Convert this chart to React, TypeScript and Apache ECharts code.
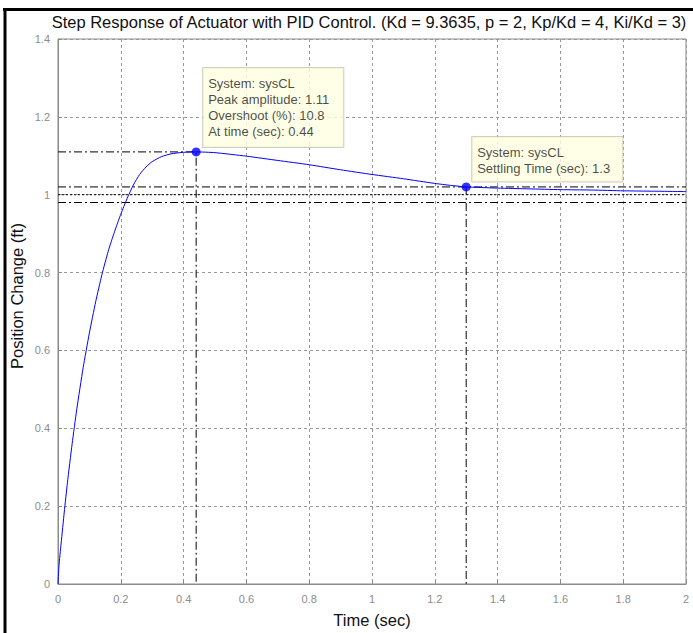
import React, { useEffect, useRef } from "react";
import * as echarts from "echarts";

const titleText =
  "Step Response of Actuator with PID Control. (Kd = 9.3635, p = 2, Kp/Kd = 4, Ki/Kd = 3)";
const xName = "Time (sec)";
const yName = "Position Change (ft)";

// step response: time (sec) and position (ft)
const timeValues = [0, 0.003, 0.01, 0.02, 0.03, 0.045, 0.06, 0.08, 0.1, 0.12, 0.14, 0.16, 0.18, 0.2, 0.22, 0.24, 0.26, 0.28, 0.3, 0.33, 0.36, 0.4, 0.44, 0.5, 0.6, 0.7, 0.8, 0.9, 1.0, 1.1, 1.2, 1.25, 1.3, 1.4, 1.5, 1.6, 1.7, 1.8, 1.9, 2.0];
const posValues = [0, 0.045, 0.105, 0.185, 0.26, 0.36, 0.45, 0.555, 0.645, 0.725, 0.795, 0.855, 0.905, 0.95, 0.99, 1.025, 1.052, 1.071, 1.085, 1.098, 1.105, 1.109, 1.11, 1.108, 1.099, 1.088, 1.077, 1.064, 1.052, 1.041, 1.029, 1.024, 1.02, 1.017, 1.015, 1.013, 1.012, 1.01, 1.009, 1.008];

const peakTime = 0.44;
const peakAmp = 1.11;
const overshoot = 10.8;
const settleTime = 1.3;
const settleAmp = 1.02;
const steadyState = 1.0;
const settleBandHi = 1.02;
const settleBandLo = 0.98;

const App: React.FC = () => {
  const ref = useRef<HTMLDivElement>(null);
  useEffect(() => {
    if (!ref.current) return;
    const chart = echarts.init(ref.current, undefined, { renderer: "svg" });
    const curve = timeValues.map((t, i) => [t, posValues[i]]);
    const dashDot = [8, 3, 2, 3];
    const refLine = (data: number[][], type: any) => ({
      type: "line",
      data,
      showSymbol: false,
      symbol: "none",
      silent: true,
      lineStyle: { color: "#000", width: 1, type },
      z: 3,
    });
    const font = "'Liberation Sans', Arial, sans-serif";
    chart.setOption({
      animation: false,
      backgroundColor: "#fff",
      textStyle: { fontFamily: font },
      title: {
        text: titleText,
        left: 369,
        top: 13,
        padding: 0,
        textAlign: "center",
        textStyle: { fontSize: 16.5, fontWeight: "normal", color: "#111", fontFamily: font },
      },
      grid: {
        left: 58,
        right: 7,
        top: 39,
        bottom: 49,
        show: true,
        borderColor: "#8a8a8a",
        borderWidth: 1,
        backgroundColor: "transparent",
      },
      xAxis: {
        type: "value",
        min: 0,
        max: 2,
        interval: 0.2,
        name: xName,
        nameLocation: "middle",
        nameGap: 27,
        nameTextStyle: { fontSize: 16.5, color: "#111", fontFamily: font },
        axisLine: { show: true, lineStyle: { color: "#8a8a8a" } },
        axisTick: { show: true, inside: true, length: 4, lineStyle: { color: "#8a8a8a" } },
        axisLabel: { color: "#8c8c8c", fontSize: 11, margin: 9, fontFamily: font },
        splitLine: { show: true, lineStyle: { color: "#999", type: [3, 3], width: 1 } },
      },
      yAxis: {
        type: "value",
        min: 0,
        max: 1.4,
        interval: 0.2,
        axisLine: { show: true, lineStyle: { color: "#8a8a8a" } },
        axisTick: { show: true, inside: true, length: 4, lineStyle: { color: "#8a8a8a" } },
        axisLabel: { color: "#8c8c8c", fontSize: 11, margin: 8, fontFamily: font },
        splitLine: { show: true, lineStyle: { color: "#999", type: [3, 3], width: 1 } },
      },
      graphic: [
        { type: "line", shape: { x1: 3, y1: 9.5, x2: 693, y2: 9.5 }, style: { stroke: "#000", lineWidth: 3 } },
        { type: "line", shape: { x1: 5, y1: 8, x2: 5, y2: 633 }, style: { stroke: "#000", lineWidth: 3 } },
        {
          type: "text",
          x: 17,
          y: 296,
          rotation: Math.PI / 2,
          style: {
            text: yName,
            fontSize: 16.5,
            fontFamily: font,
            fill: "#111",
            align: "center",
            verticalAlign: "middle",
          },
        },
      ],
      series: [
        refLine([[0, settleBandHi], [2, settleBandHi]], dashDot),
        refLine([[0, settleBandLo], [2, settleBandLo]], dashDot),
        refLine([[0, steadyState], [2, steadyState]], [2, 2]),
        refLine([[0, peakAmp], [peakTime, peakAmp], [peakTime, 0]], dashDot),
        refLine([[settleTime, settleAmp], [settleTime, 0]], dashDot),
        {
          type: "line",
          name: "sysCL",
          data: curve,
          showSymbol: false,
          symbol: "none",
          smooth: 0.2,
          lineStyle: { color: "#0000ff", width: 1 },
          z: 4,
        },
        {
          type: "scatter",
          symbol: "circle",
          symbolSize: 9,
          itemStyle: { color: "#0000ff" },
          z: 6,
          label: {
            show: true,
            align: "left",
            verticalAlign: "top",
            backgroundColor: "#ffffe1",
            borderColor: "#c4c4b0",
            borderWidth: 1,
            color: "#1a1a1a",
            fontSize: 13,
            lineHeight: 16.3,
            fontFamily: font,
          },
          data: [
            {
              value: [peakTime, peakAmp],
              label: {
                position: [11.5, -79.5],
                padding: [7, 14, 7, 5],
                formatter: [
                  "System: sysCL",
                  `Peak amplitude: ${peakAmp}`,
                  `Overshoot (%): ${overshoot}`,
                  `At time (sec): ${peakTime}`,
                ].join("\n"),
              },
            },
            {
              value: [settleTime, settleAmp],
              label: {
                position: [10.5, -45.5],
                padding: [7, 12, 5, 5],
                formatter: ["System: sysCL", `Settling Time (sec): ${settleTime}`].join("\n"),
              },
            },
          ],
        },
      ],
    });
    return () => chart.dispose();
  }, []);
  return (
    <div style={{ position: "fixed", left: 0, top: 0, width: 693, height: 633, background: "#fff" }}>
      <div ref={ref} style={{ width: 693, height: 633 }} />
    </div>
  );
};

export default App;
